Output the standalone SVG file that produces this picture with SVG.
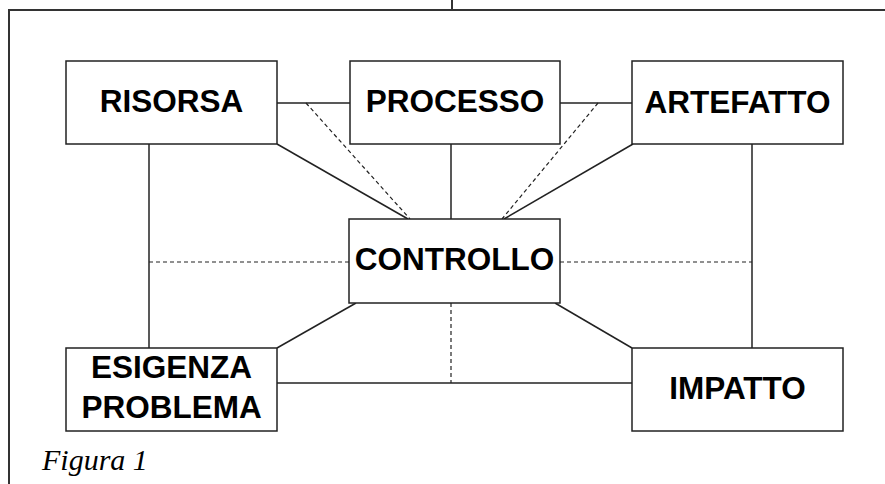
<svg xmlns="http://www.w3.org/2000/svg" width="885" height="484" viewBox="0 0 885 484">
<style>
.frame{fill:none;stroke:#333;stroke-width:2}
.box{fill:#fff;stroke:#222;stroke-width:1.5}
.lbl{font-family:"Liberation Sans",Arial,sans-serif;font-weight:bold;font-size:31.5px;fill:#000;text-anchor:middle}
.s{stroke:#222;stroke-width:1.5;fill:none}
.d{stroke:#222;stroke-width:1.2;fill:none;stroke-dasharray:4 3}
.cap{font-family:"Liberation Serif","Times New Roman",serif;font-style:italic;font-size:30px;fill:#000}
</style>
<rect width="885" height="484" fill="#fff"/>
<g id="frame">
<path class="frame" d="M9,484 V10 H885"/>
<path class="frame" d="M452,0 V10"/>
</g>
<g id="connectors">
<path class="s" d="M277,103 H350"/>
<path class="s" d="M560,103 H632"/>
<path class="s" d="M149,144 V348"/>
<path class="s" d="M752,144 V348"/>
<path class="s" d="M451,144 V219"/>
<path class="s" d="M277,144 L408,219"/>
<path class="s" d="M633,144 L504,219"/>
<path class="s" d="M277,348 L356,303"/>
<path class="s" d="M632,348 L555,303"/>
<path class="s" d="M277,383 H632"/>
<path class="d" d="M306,103 L410,219"/>
<path class="d" d="M598,103 L502,219"/>
<path class="d" d="M149,262 H349"/>
<path class="d" d="M560,262 H752"/>
<path class="d" d="M451,303 V383"/>
</g>
<g id="risorsa">
<rect class="box" x="66" y="61" width="211" height="83"/>
<text class="lbl" x="171.5" y="112">RISORSA</text>
</g>
<g id="processo">
<rect class="box" x="350" y="61" width="210" height="83"/>
<text class="lbl" x="455" y="112">PROCESSO</text>
</g>
<g id="artefatto">
<rect class="box" x="632" y="61" width="211" height="83"/>
<text class="lbl" x="737.5" y="113">ARTEFATTO</text>
</g>
<g id="controllo">
<rect class="box" x="349" y="219" width="211" height="84"/>
<text class="lbl" x="454.5" y="270">CONTROLLO</text>
</g>
<g id="esigenza">
<rect class="box" x="66" y="348" width="211" height="83"/>
<text class="lbl" x="171.5" y="378">ESIGENZA</text>
<text class="lbl" x="171.5" y="418">PROBLEMA</text>
</g>
<g id="impatto">
<rect class="box" x="632" y="348" width="211" height="83"/>
<text class="lbl" x="737.5" y="399">IMPATTO</text>
</g>
<text class="cap" x="42" y="470">Figura 1</text>
</svg>
